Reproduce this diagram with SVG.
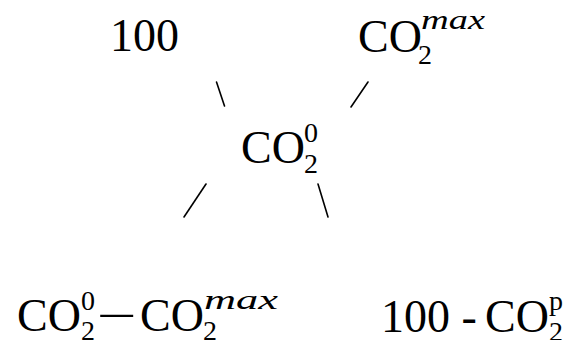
<svg xmlns="http://www.w3.org/2000/svg" width="569" height="340" viewBox="0 0 569 340">
<style>
.t{font-family:"Liberation Serif","Times New Roman",serif;fill:#000}
.m{font-size:46px}
.s{font-size:28px}
.i{font-style:italic}
.c{stroke:#000;stroke-width:1.6;fill:none;stroke-linecap:round}
</style>
<rect width="569" height="340" fill="#fff"/>
<g id="connectors">
<line class="c" x1="216.5" y1="82" x2="224.5" y2="106"/>
<line class="c" x1="368" y1="82" x2="351" y2="107"/>
<line class="c" x1="206" y1="184" x2="184" y2="217"/>
<line class="c" x1="318" y1="184" x2="328" y2="217"/>
</g>
<g id="n100">
<text class="t m" x="110" y="51">100</text>
</g>
<g id="nCO2max">
<text class="t m" x="358" y="52">CO</text>
<text class="t s" x="418" y="64">2</text>
<text class="t s i" x="421" y="29" textLength="64" lengthAdjust="spacingAndGlyphs">max</text>
</g>
<g id="nCO20">
<text class="t m" x="241" y="163">CO</text>
<text class="t s" x="304" y="173">2</text>
<text class="t s" x="304" y="142">0</text>
</g>
<g id="nDiff">
<text class="t m" x="17" y="331">CO</text>
<text class="t s" x="81" y="340">2</text>
<text class="t s" x="81" y="310">0</text>
<text class="t m" x="97" y="331" textLength="40" lengthAdjust="spacingAndGlyphs">−</text>
<text class="t m" x="140" y="331">CO</text>
<text class="t s" x="203" y="340">2</text>
<text class="t s i" x="204" y="309" textLength="74" lengthAdjust="spacingAndGlyphs">max</text>
</g>
<g id="n100minus">
<text class="t m" x="381" y="332">100 -</text>
<text class="t m" x="485" y="332">CO</text>
<text class="t s" x="549" y="341">2</text>
<text class="t s" x="549" y="310">p</text>
</g>
</svg>
